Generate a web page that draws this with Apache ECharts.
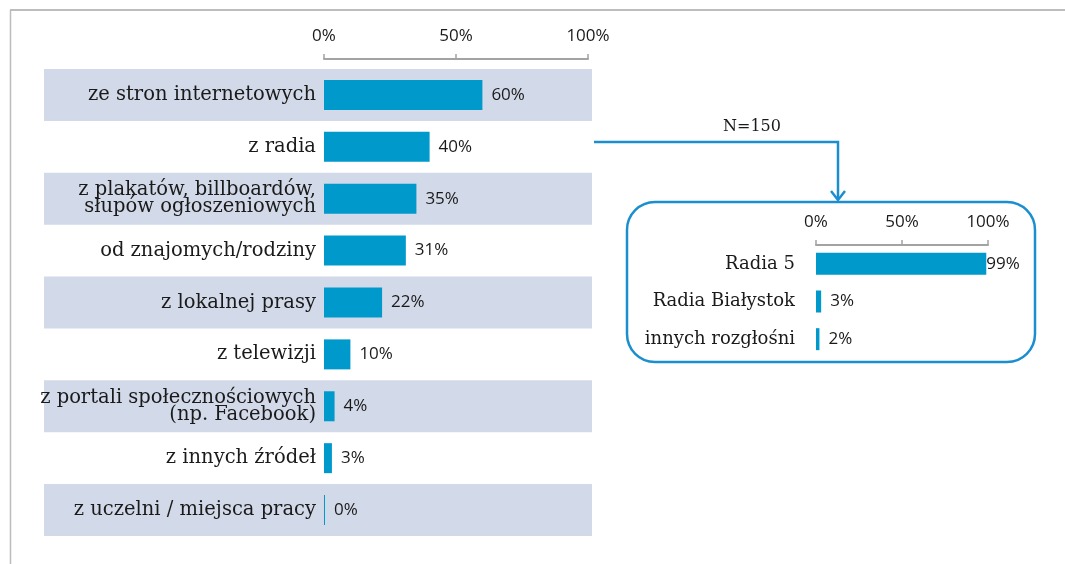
<!DOCTYPE html>
<html>
<head>
<meta charset="utf-8">
<script src="https://cdn.jsdelivr.net/npm/echarts@6/dist/echarts.min.js"></script>
<style>
  html, body { margin: 0; padding: 0; background: #fff; }
  #chart { width: 1065px; height: 564px; }
</style>
</head>
<body>
<div id="chart"></div>
<script>
// źródła informacji
var categories = [
  "ze stron internetowych",
  "z radia",
  "z plakatów, billboardów,\nsłupów ogłoszeniowych",
  "od znajomych/rodziny",
  "z lokalnej prasy",
  "z telewizji",
  "z portali społecznościowych\n(np. Facebook)",
  "z innych źródeł",
  "z uczelni / miejsca pracy"
];
var values = [60, 40, 35, 31, 22, 10, 4, 3, 0];

// rozgłośnie (N=150)
var radioCategories = ["Radia 5", "Radia Białystok", "innych rozgłośni"];
var radioValues = [99, 3, 2];
var radioNote = "N=150";

var BLUE = "#0099cc";
var LINE_BLUE = "#1b8ecf";
var BAND = "#d2d9e8";
var SERIF = "DejaVu Serif";
var SANS = "Open Sans";

var chart = echarts.init(document.getElementById("chart"));

function percentAxis(grid, offset) {
  return {
    gridIndex: grid,
    type: "value",
    position: "top",
    min: 0,
    max: 100,
    interval: 50,
    offset: offset,
    axisLine: { show: true, lineStyle: { color: "#a3a3a3", width: 2 } },
    axisTick: { show: true, length: 5, lineStyle: { color: "#a3a3a3", width: 1.5 } },
    axisLabel: { formatter: "{value}%", fontFamily: SANS, fontSize: 17, color: "#1a1a1a", margin: 14 },
    splitLine: { show: false }
  };
}

chart.setOption({
  animation: false,
  grid: [
    { left: 44, right: 473, top: 69, bottom: 28 },   // pasy tła
    { left: 324, right: 477, top: 69, bottom: 28 },  // główny wykres
    { left: 816, right: 77, top: 245, bottom: 206 }  // wstawka
  ],
  xAxis: [
    { gridIndex: 0, type: "value", min: 0, max: 1, show: false },
    percentAxis(1, 10),
    percentAxis(2, 0)
  ],
  yAxis: [
    {
      gridIndex: 0,
      type: "category",
      data: categories,
      inverse: true,
      axisLine: { show: false },
      axisTick: { show: false },
      axisLabel: { show: false },
      splitArea: { show: true, areaStyle: { color: [BAND, "rgba(255,255,255,0)"] } }
    },
    {
      gridIndex: 1,
      type: "category",
      data: categories,
      inverse: true,
      axisLine: { show: false },
      axisTick: { show: false },
      axisLabel: { fontFamily: SERIF, fontSize: 19.5, lineHeight: 17, color: "#1a1a1a", margin: 8 }
    },
    {
      gridIndex: 2,
      type: "category",
      data: radioCategories,
      inverse: true,
      axisLine: { show: false },
      axisTick: { show: false },
      axisLabel: { fontFamily: SERIF, fontSize: 18, color: "#1a1a1a", margin: 21 }
    }
  ],
  series: [
    {
      type: "bar",
      xAxisIndex: 1,
      yAxisIndex: 1,
      data: values,
      barWidth: 30,
      barMinHeight: 1,
      itemStyle: { color: BLUE },
      label: {
        show: true,
        position: "right",
        distance: 9,
        formatter: "{c}%",
        fontFamily: SANS,
        fontSize: 17,
        color: "#1a1a1a"
      }
    },
    {
      type: "bar",
      xAxisIndex: 2,
      yAxisIndex: 2,
      data: radioValues.map(function (v) {
        return v > 90 ? { value: v, label: { distance: 0 } } : v;
      }),
      barWidth: 22,
      itemStyle: { color: BLUE },
      label: {
        show: true,
        position: "right",
        distance: 9,
        formatter: "{c}%",
        fontFamily: SANS,
        fontSize: 17,
        color: "#1a1a1a"
      }
    }
  ],
  graphic: [
    // ramka
    { type: "line", shape: { x1: 10, y1: 10, x2: 1065, y2: 10 }, style: { stroke: "#bdbdbd", lineWidth: 2 } },
    { type: "line", shape: { x1: 10.5, y1: 10, x2: 10.5, y2: 564 }, style: { stroke: "#bdbdbd", lineWidth: 1.5 } },
    // strzałka do wstawki
    {
      type: "polyline",
      shape: { points: [[594, 142], [838, 142], [838, 199]] },
      style: { stroke: LINE_BLUE, lineWidth: 2.5, fill: null }
    },
    {
      type: "polyline",
      shape: { points: [[831, 191], [838, 200], [845, 191]] },
      style: { stroke: LINE_BLUE, lineWidth: 2.5, fill: null }
    },
    {
      type: "text",
      x: 752,
      y: 127,
      style: { text: radioNote, fontFamily: SERIF, fontSize: 16, fill: "#1a1a1a", align: "center", verticalAlign: "middle" }
    },
    {
      type: "rect",
      shape: { x: 627, y: 202, width: 408, height: 160, r: 28 },
      style: { fill: null, stroke: LINE_BLUE, lineWidth: 2.5 }
    }
  ]
});
</script>
</body>
</html>
